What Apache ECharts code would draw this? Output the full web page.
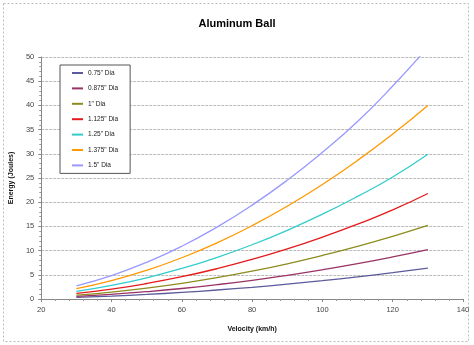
<!DOCTYPE html>
<html>
<head>
<meta charset="utf-8">
<script src="https://cdn.jsdelivr.net/npm/echarts@6/dist/echarts.min.js"></script>
<style>html,body{margin:0;padding:0;background:#fff}#c{width:474px;height:345px}</style>
</head>
<body>
<div id="c"></div>
<script>
var velocity = [30, 40, 50, 60, 70, 80, 90, 100, 110, 120, 130];
var seriesNames = ['0.75" Dia', '0.875" Dia', '1" Dia', '1.125" Dia', '1.25" Dia', '1.375" Dia', '1.5" Dia'];
var dia075  = [0.34, 0.61, 0.95, 1.36, 1.86, 2.42, 3.07, 3.79, 4.58, 5.45, 6.4];
var dia0875 = [0.54, 0.97, 1.51, 2.17, 2.96, 3.86, 4.89, 6.04, 7.30, 8.69, 10.2];
var dia1    = [0.81, 1.44, 2.25, 3.24, 4.41, 5.76, 7.28, 8.99, 10.88, 12.95, 15.2];
var dia1125 = [1.15, 2.04, 3.20, 4.60, 6.26, 8.18, 10.35, 12.78, 15.46, 18.40, 21.8];
var dia125  = [1.58, 2.81, 4.38, 6.31, 8.59, 11.21, 14.19, 17.52, 21.2, 25.2, 29.9];
var dia1375 = [2.13, 3.79, 5.92, 8.52, 11.6, 15.15, 19.17, 23.67, 28.64, 34.08, 40.0];
var dia15   = [2.73, 4.85, 7.57, 10.9, 14.84, 19.39, 24.54, 30.3, 36.66, 44.0, 52.0];
var allSeries = [dia075, dia0875, dia1, dia1125, dia125, dia1375, dia15];
var colors = ['#5B5B9B', '#993366', '#8C8C1F', '#E41A1C', '#33CCCC', '#FF9900', '#9999FF'];

var chart = echarts.init(document.getElementById('c'));
var series = allSeries.map(function (vals, i) {
  return {
    name: seriesNames[i],
    type: 'line',
    data: vals.map(function (v, j) { return [velocity[j], v]; }),
    showSymbol: false,
    smooth: true,
    clip: true,
    lineStyle: { color: colors[i], width: 1.3 },
    itemStyle: { color: colors[i] }
  };
});
chart.setOption({
  animation: false,
  backgroundColor: '#fff',
  title: {
    text: 'Aluminum Ball', left: 'center', top: 13,
    textStyle: { fontFamily: 'Liberation Sans', fontSize: 11, fontWeight: 'bold', color: '#000' }
  },
  graphic: [{
    type: 'rect', shape: { x: 3.5, y: 3.5, width: 465, height: 338 },
    style: { fill: 'none', stroke: '#bbb', lineWidth: 1, lineDash: [2, 2] }, silent: true
  }],
  legend: {
    orient: 'vertical', left: 60, top: 65,
    padding: [4, 12, 4, 12],
    itemWidth: 11, itemHeight: 2, itemGap: 7.4, icon: 'rect',
    backgroundColor: '#fff', borderColor: '#555', borderWidth: 1,
    textStyle: { fontFamily: 'Liberation Sans', fontSize: 6.5, color: '#222', lineHeight: 8 },
    data: seriesNames
  },
  grid: { left: 38, right: 11, top: 57, bottom: 46 },
  xAxis: {
    type: 'value', min: 20, max: 140, interval: 20,
    name: 'Velocity (km/h)', nameLocation: 'middle', nameGap: 27,
    nameTextStyle: { fontFamily: 'Liberation Sans', fontSize: 7, fontWeight: 'bold', color: '#111' },
    axisLine: { show: true, lineStyle: { color: '#888' } },
    axisTick: { show: true, length: 3, lineStyle: { color: '#888' } },
    minorTick: { show: true, splitNumber: 5, length: 2, lineStyle: { color: '#999' } },
    splitLine: { show: false },
    axisLabel: { fontFamily: 'Liberation Sans', fontSize: 7.5, color: '#444', margin: 7 }
  },
  yAxis: {
    type: 'value', min: 0, max: 50, interval: 5,
    name: 'Energy (Joules)', nameLocation: 'middle', nameGap: 22,
    nameTextStyle: { fontFamily: 'Liberation Sans', fontSize: 7, fontWeight: 'bold', color: '#111' },
    axisLine: { show: true, lineStyle: { color: '#888' } },
    axisTick: { show: true, length: 3, lineStyle: { color: '#888' } },
    minorTick: { show: true, splitNumber: 5, length: 2, lineStyle: { color: '#999' } },
    splitLine: { show: true, lineStyle: { color: '#bbb', type: [3, 1] } },
    axisLabel: { fontFamily: 'Liberation Sans', fontSize: 7.5, color: '#444', margin: 7 }
  },
  series: series
});
</script>
</body>
</html>
